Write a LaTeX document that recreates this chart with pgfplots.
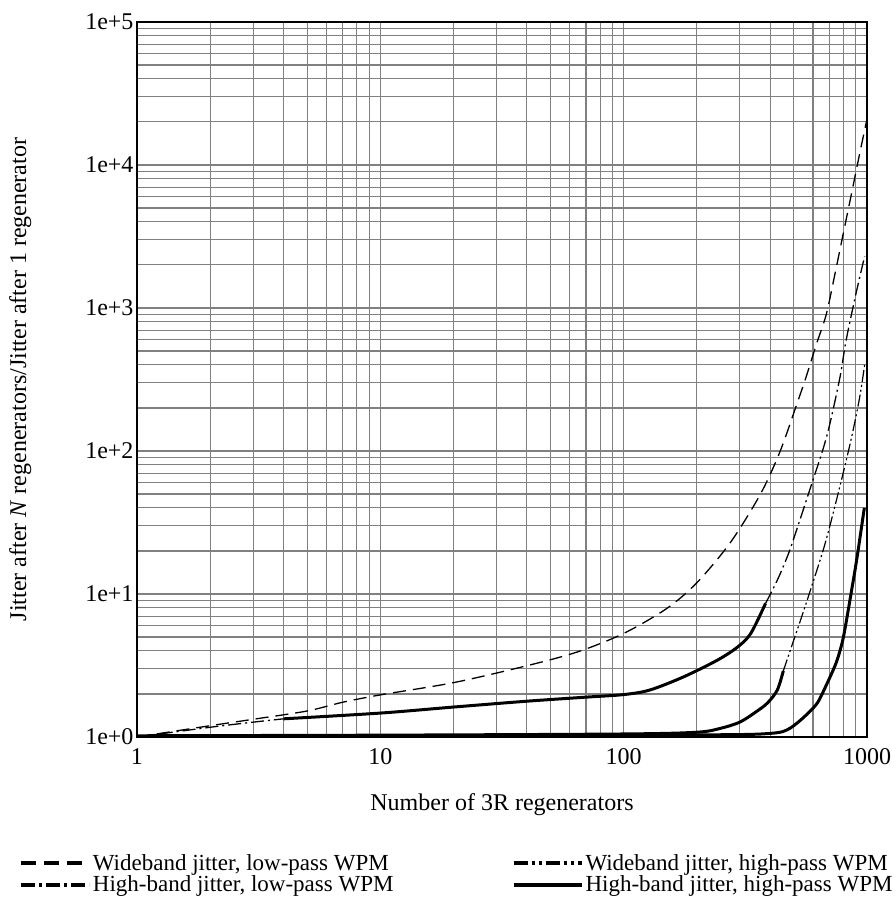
\documentclass[border=0pt]{standalone}
\usepackage{fontspec}
\setmainfont{Liberation Serif}
\newfontfamily\codefont{Liberation Sans}
\usepackage{pgfplots}
\pgfplotsset{compat=1.18}
\tikzset{
  wbl/.style={line width=1.3pt, dash pattern=on 13pt off 7pt},
  hbl/.style={line width=1.3pt, dash pattern=on 13pt off 4pt on 2pt off 4pt},
  wbh/.style={line width=1.2pt, dash pattern=on 12pt off 3pt on 2pt off 3pt on 2pt off 3pt},
  sol/.style={line width=3pt, solid},
}
\begin{document}
\begin{tikzpicture}
\useasboundingbox (-137pt,-173pt) rectangle (758pt,737pt);
\begin{axis}[
  at={(0pt,0pt)}, anchor=south west,
  scale only axis, width=730pt, height=715pt,
  xmode=log, ymode=log,
  xmin=1, xmax=1000, ymin=1, ymax=100000,
  xtick={1,10,100,1000}, xticklabels={1,10,100,1000},
  ytick={1,10,100,1000,10000,100000},
  yticklabels={1e+0,1e+1,1e+2,1e+3,1e+4,1e+5},
  grid=both,
  major grid style={draw=gray, line width=1.1pt},
  minor grid style={draw=gray, line width=1.1pt},
  major tick length=0pt, minor tick length=0pt,
  axis line style={line width=1.6pt, black},
  tick label style={font=\fontsize{24}{26}\selectfont},
  xticklabel style={yshift=-8pt},
  label style={font=\fontsize{24}{26}\selectfont},
  xlabel={Number of 3R regenerators},
  ylabel={Jitter after \textit{N} regenerators/Jitter after 1 regenerator},
  xlabel style={at={(axis description cs:0.5,-0.095)}, anchor=center},
  ylabel style={at={(axis description cs:-0.16,0.5)}, anchor=center},
  legend columns=2,
  legend cell align=left,
  legend style={at={(axis description cs:-0.162,-0.161)}, anchor=north west,
    draw=none, fill=none, inner sep=0pt, row sep=0pt,
    font=\fontsize{23}{23}\selectfont,
    /tikz/every even column/.append style={column sep=116pt}},
  legend image code/.code={\draw[#1, line width=4pt] (0pt,0pt) -- (68pt,0pt);},
]
\addlegendimage{dash pattern=on 15pt off 8pt}
\addlegendentry{Wideband jitter, low-pass WPM}
\addlegendimage{dash pattern=on 14pt off 4pt on 3pt off 4pt on 3pt off 4pt}
\addlegendentry{Wideband jitter, high-pass WPM}
\addlegendimage{dash pattern=on 14pt off 4pt on 3pt off 4pt}
\addlegendentry{High-band jitter, low-pass WPM}
\addlegendimage{solid}
\addlegendentry{High-band jitter, high-pass WPM}

% Wideband jitter, low-pass WPM (dashed)
\addplot[forget plot, wbl, smooth] coordinates {
 (1,1.0) (2,1.2) (3,1.33) (5,1.52) (7,1.75) (10,1.97) (20,2.4) (40,3.15) (65,3.95)
 (100,5.3) (150,7.9) (200,12) (275,23) (365,50) (440,100) (522,228) (560,323)
 (620,560) (680,900) (740,1760) (804,3500) (870,6700) (930,11700) (1000,21000)};

% High-band jitter, low-pass WPM (dash-dot, with solid middle part)
\addplot[forget plot, hbl, smooth] coordinates {
 (1,1.0) (2,1.17) (3,1.27) (4,1.34)};
\addplot[forget plot, sol, smooth] coordinates {
 (4,1.34) (10,1.47) (20,1.62) (40,1.78) (70,1.9) (100,1.98) (128,2.13) (176,2.63)
 (243,3.45) (294,4.26) (333,5.3) (383,8.6)};
\addplot[forget plot, hbl, smooth] coordinates {
 (383,8.6) (428,12.5) (477,19.4) (535,34.6) (604,65) (650,95) (690,135) (735,215)
 (780,350) (820,590) (900,1250) (978,2300)};

% Wideband jitter, high-pass WPM (solid start, dash-dot-dot)
\addplot[forget plot, sol, smooth] coordinates {
 (1,1.02) (10,1.03) (100,1.05) (200,1.08) (250,1.15) (300,1.27) (350,1.5)
 (390,1.73) (428,2.13) (453,2.9)};
\addplot[forget plot, wbh, smooth] coordinates {
 (453,2.9) (490,4.3) (540,7) (584,10.5) (670,22) (760,50) (855,115) (930,230) (978,400)};

% High-band jitter, high-pass WPM (solid)
\addplot[forget plot, sol, smooth] coordinates {
 (1,1.0) (100,1.03) (300,1.04) (400,1.06) (450,1.09) (486,1.16) (530,1.3) (580,1.5)
 (628,1.75) (680,2.3) (730,3.0) (760,3.6) (800,5.0) (855,9.5) (910,18) (975,40)};

\node[anchor=east, font=\codefont\fontsize{14}{14}\selectfont]
  at (axis description cs:0.998,-0.075) {G.8251(10)\_FIV.2-3a};
\end{axis}
\end{tikzpicture}
\end{document}
